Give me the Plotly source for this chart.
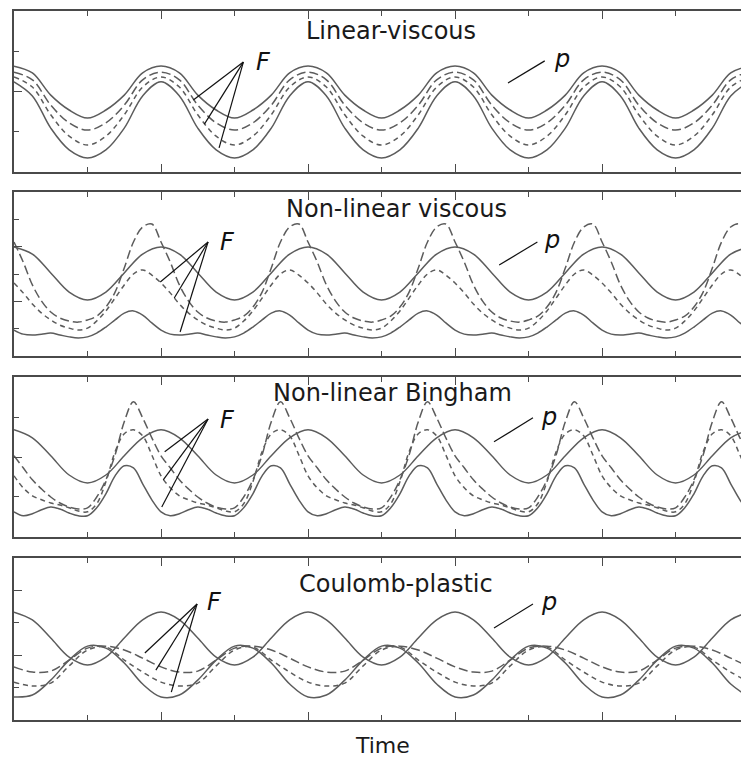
import plotly.graph_objects as go

# ---------------- sampling grids (time, in tick units) ----------------
time_coarse = [0, 0.25, 0.5, 0.75, 1, 1.25, 1.5, 1.75,
               2, 2.25, 2.5, 2.75, 3, 3.25, 3.5, 3.75,
               4, 4.25, 4.5, 4.75, 5, 5.25, 5.5, 5.75,
               6, 6.25, 6.5, 6.75, 7, 7.25, 7.5, 7.75,
               8, 8.25, 8.5, 8.75, 9, 9.25, 9.5, 9.75, 10]

time_fine = [0, 0.125, 0.25, 0.375, 0.5, 0.625, 0.75, 0.875,
             1, 1.125, 1.25, 1.375, 1.5, 1.625, 1.75, 1.875,
             2, 2.125, 2.25, 2.375, 2.5, 2.625, 2.75, 2.875,
             3, 3.125, 3.25, 3.375, 3.5, 3.625, 3.75, 3.875,
             4, 4.125, 4.25, 4.375, 4.5, 4.625, 4.75, 4.875,
             5, 5.125, 5.25, 5.375, 5.5, 5.625, 5.75, 5.875,
             6, 6.125, 6.25, 6.375, 6.5, 6.625, 6.75, 6.875,
             7, 7.125, 7.25, 7.375, 7.5, 7.625, 7.75, 7.875,
             8, 8.125, 8.25, 8.375, 8.5, 8.625, 8.75, 8.875,
             9, 9.125, 9.25, 9.375, 9.5, 9.625, 9.75, 9.875, 10]

# ---------------- Panel 1: Linear-viscous (coarse grid) ----------------
lv_p = [2.63, 2.46, 1.91, 1.54, 1.34, 1.54, 1.91, 2.46,
        2.63, 2.46, 1.91, 1.54, 1.34, 1.54, 1.91, 2.46,
        2.63, 2.46, 1.91, 1.54, 1.34, 1.54, 1.91, 2.46,
        2.63, 2.46, 1.91, 1.54, 1.34, 1.54, 1.91, 2.46,
        2.63, 2.46, 1.91, 1.54, 1.34, 1.54, 1.91, 2.46, 2.63]
lv_f1 = [2.48, 2.29, 1.66, 1.22, 1.04, 1.22, 1.66, 2.29,
         2.48, 2.29, 1.66, 1.22, 1.04, 1.22, 1.66, 2.29,
         2.48, 2.29, 1.66, 1.22, 1.04, 1.22, 1.66, 2.29,
         2.48, 2.29, 1.66, 1.22, 1.04, 1.22, 1.66, 2.29,
         2.48, 2.29, 1.66, 1.22, 1.04, 1.22, 1.66, 2.29, 2.48]
lv_f2 = [2.36, 2.11, 1.42, 0.89, 0.67, 0.89, 1.42, 2.11,
         2.36, 2.11, 1.42, 0.89, 0.67, 0.89, 1.42, 2.11,
         2.36, 2.11, 1.42, 0.89, 0.67, 0.89, 1.42, 2.11,
         2.36, 2.11, 1.42, 0.89, 0.67, 0.89, 1.42, 2.11,
         2.36, 2.11, 1.42, 0.89, 0.67, 0.89, 1.42, 2.11, 2.36]
lv_f3 = [2.24, 1.89, 1.09, 0.55, 0.35, 0.55, 1.09, 1.89,
         2.24, 1.89, 1.09, 0.55, 0.35, 0.55, 1.09, 1.89,
         2.24, 1.89, 1.09, 0.55, 0.35, 0.55, 1.09, 1.89,
         2.24, 1.89, 1.09, 0.55, 0.35, 0.55, 1.09, 1.89,
         2.24, 1.89, 1.09, 0.55, 0.35, 0.55, 1.09, 1.89, 2.24]

# ---------------- Panel 2: Non-linear viscous ----------------
nv_p = [3.99, 3.73, 3.04, 2.34, 2.05, 2.34, 3.04, 3.73,
        3.99, 3.73, 3.04, 2.34, 2.05, 2.34, 3.04, 3.73,
        3.99, 3.73, 3.04, 2.34, 2.05, 2.34, 3.04, 3.73,
        3.99, 3.73, 3.04, 2.34, 2.05, 2.34, 3.04, 3.73,
        3.99, 3.73, 3.04, 2.34, 2.05, 2.34, 3.04, 3.73, 3.99]
nv_f1 = [4.17, 3.44, 2.60, 2.01, 1.61, 1.39, 1.28, 1.24, 1.32, 1.46, 1.79, 2.34, 3.22, 4.17, 4.72, 4.83,
         4.17, 3.44, 2.60, 2.01, 1.61, 1.39, 1.28, 1.24, 1.32, 1.46, 1.79, 2.34, 3.22, 4.17, 4.72, 4.83,
         4.17, 3.44, 2.60, 2.01, 1.61, 1.39, 1.28, 1.24, 1.32, 1.46, 1.79, 2.34, 3.22, 4.17, 4.72, 4.83,
         4.17, 3.44, 2.60, 2.01, 1.61, 1.39, 1.28, 1.24, 1.32, 1.46, 1.79, 2.34, 3.22, 4.17, 4.72, 4.83,
         4.17, 3.44, 2.60, 2.01, 1.61, 1.39, 1.28, 1.24, 1.32, 1.46, 1.79, 2.34, 3.22, 4.17, 4.72, 4.83,
         4.17]
nv_f2 = [2.67, 2.31, 1.90, 1.57, 1.32, 1.13, 1.02, 0.95, 1.02, 1.28, 1.65, 2.12, 2.60, 3.00, 3.15, 2.96,
         2.67, 2.31, 1.90, 1.57, 1.32, 1.13, 1.02, 0.95, 1.02, 1.28, 1.65, 2.12, 2.60, 3.00, 3.15, 2.96,
         2.67, 2.31, 1.90, 1.57, 1.32, 1.13, 1.02, 0.95, 1.02, 1.28, 1.65, 2.12, 2.60, 3.00, 3.15, 2.96,
         2.67, 2.31, 1.90, 1.57, 1.32, 1.13, 1.02, 0.95, 1.02, 1.28, 1.65, 2.12, 2.60, 3.00, 3.15, 2.96,
         2.67, 2.31, 1.90, 1.57, 1.32, 1.13, 1.02, 0.95, 1.02, 1.28, 1.65, 2.12, 2.60, 3.00, 3.15, 2.96,
         2.67]
nv_f3 = [0.95, 0.80, 0.77, 0.80, 0.84, 0.77, 0.70, 0.66, 0.70, 0.84, 1.06, 1.32, 1.57, 1.65, 1.50, 1.21,
         0.95, 0.80, 0.77, 0.80, 0.84, 0.77, 0.70, 0.66, 0.70, 0.84, 1.06, 1.32, 1.57, 1.65, 1.50, 1.21,
         0.95, 0.80, 0.77, 0.80, 0.84, 0.77, 0.70, 0.66, 0.70, 0.84, 1.06, 1.32, 1.57, 1.65, 1.50, 1.21,
         0.95, 0.80, 0.77, 0.80, 0.84, 0.77, 0.70, 0.66, 0.70, 0.84, 1.06, 1.32, 1.57, 1.65, 1.50, 1.21,
         0.95, 0.80, 0.77, 0.80, 0.84, 0.77, 0.70, 0.66, 0.70, 0.84, 1.06, 1.32, 1.57, 1.65, 1.50, 1.21,
         0.95]

# ---------------- Panel 3: Non-linear Bingham ----------------
nb_p = [2.68, 2.48, 2.03, 1.55, 1.35, 1.55, 2.03, 2.48,
        2.68, 2.48, 2.03, 1.55, 1.35, 1.55, 2.03, 2.48,
        2.68, 2.48, 2.03, 1.55, 1.35, 1.55, 2.03, 2.48,
        2.68, 2.48, 2.03, 1.55, 1.35, 1.55, 2.03, 2.48,
        2.68, 2.48, 2.03, 1.55, 1.35, 1.55, 2.03, 2.48, 2.68]
nb_f1 = [2.03, 1.73, 1.43, 1.20, 1.00, 0.85, 0.75, 0.70, 0.73, 1.00, 1.43, 2.05, 2.88, 3.38, 2.98, 2.48,
         2.03, 1.73, 1.43, 1.20, 1.00, 0.85, 0.75, 0.70, 0.73, 1.00, 1.43, 2.05, 2.88, 3.38, 2.98, 2.48,
         2.03, 1.73, 1.43, 1.20, 1.00, 0.85, 0.75, 0.70, 0.73, 1.00, 1.43, 2.05, 2.88, 3.38, 2.98, 2.48,
         2.03, 1.73, 1.43, 1.20, 1.00, 0.85, 0.75, 0.70, 0.73, 1.00, 1.43, 2.05, 2.88, 3.38, 2.98, 2.48,
         2.03, 1.73, 1.43, 1.20, 1.00, 0.85, 0.75, 0.70, 0.73, 1.00, 1.43, 2.05, 2.88, 3.38, 2.98, 2.48,
         2.03]
nb_f2 = [1.53, 1.23, 1.03, 0.93, 0.85, 0.80, 0.73, 0.65, 0.63, 0.83, 1.38, 2.13, 2.58, 2.68, 2.53, 2.05,
         1.53, 1.23, 1.03, 0.93, 0.85, 0.80, 0.73, 0.65, 0.63, 0.83, 1.38, 2.13, 2.58, 2.68, 2.53, 2.05,
         1.53, 1.23, 1.03, 0.93, 0.85, 0.80, 0.73, 0.65, 0.63, 0.83, 1.38, 2.13, 2.58, 2.68, 2.53, 2.05,
         1.53, 1.23, 1.03, 0.93, 0.85, 0.80, 0.73, 0.65, 0.63, 0.83, 1.38, 2.13, 2.58, 2.68, 2.53, 2.05,
         1.53, 1.23, 1.03, 0.93, 0.85, 0.80, 0.73, 0.65, 0.63, 0.83, 1.38, 2.13, 2.58, 2.68, 2.53, 2.05,
         1.53]
nb_f3 = [0.63, 0.53, 0.58, 0.68, 0.75, 0.70, 0.60, 0.53, 0.53, 0.73, 1.08, 1.53, 1.78, 1.73, 1.33, 0.93,
         0.63, 0.53, 0.58, 0.68, 0.75, 0.70, 0.60, 0.53, 0.53, 0.73, 1.08, 1.53, 1.78, 1.73, 1.33, 0.93,
         0.63, 0.53, 0.58, 0.68, 0.75, 0.70, 0.60, 0.53, 0.53, 0.73, 1.08, 1.53, 1.78, 1.73, 1.33, 0.93,
         0.63, 0.53, 0.58, 0.68, 0.75, 0.70, 0.60, 0.53, 0.53, 0.73, 1.08, 1.53, 1.78, 1.73, 1.33, 0.93,
         0.63, 0.53, 0.58, 0.68, 0.75, 0.70, 0.60, 0.53, 0.53, 0.73, 1.08, 1.53, 1.78, 1.73, 1.33, 0.93,
         0.63]

# ---------------- Panel 4: Coulomb-plastic (coarse grid) ----------------
cp_p = [3.33, 3.09, 2.53, 1.94, 1.70, 1.94, 2.53, 3.09,
        3.33, 3.09, 2.53, 1.94, 1.70, 1.94, 2.53, 3.09,
        3.33, 3.09, 2.53, 1.94, 1.70, 1.94, 2.53, 3.09,
        3.33, 3.09, 2.53, 1.94, 1.70, 1.94, 2.53, 3.09,
        3.33, 3.09, 2.53, 1.94, 1.70, 1.94, 2.53, 3.09, 3.33]
cp_f1 = [1.64, 1.48, 1.51, 1.85, 2.22, 2.28, 2.16, 1.91,
         1.64, 1.48, 1.51, 1.85, 2.22, 2.28, 2.16, 1.91,
         1.64, 1.48, 1.51, 1.85, 2.22, 2.28, 2.16, 1.91,
         1.64, 1.48, 1.51, 1.85, 2.22, 2.28, 2.16, 1.91,
         1.64, 1.48, 1.51, 1.85, 2.22, 2.28, 2.16, 1.91, 1.64]
cp_f2 = [1.17, 1.05, 1.14, 1.67, 2.16, 2.25, 1.85, 1.48,
         1.17, 1.05, 1.14, 1.67, 2.16, 2.25, 1.85, 1.48,
         1.17, 1.05, 1.14, 1.67, 2.16, 2.25, 1.85, 1.48,
         1.17, 1.05, 1.14, 1.67, 2.16, 2.25, 1.85, 1.48,
         1.17, 1.05, 1.14, 1.67, 2.16, 2.25, 1.85, 1.48, 1.17]
cp_f3 = [0.71, 0.77, 1.23, 1.85, 2.28, 2.22, 1.76, 1.11,
         0.71, 0.77, 1.23, 1.85, 2.28, 2.22, 1.76, 1.11,
         0.71, 0.77, 1.23, 1.85, 2.28, 2.22, 1.76, 1.11,
         0.71, 0.77, 1.23, 1.85, 2.28, 2.22, 1.76, 1.11,
         0.71, 0.77, 1.23, 1.85, 2.28, 2.22, 1.76, 1.11, 0.71]

panel_titles = ["Linear-viscous", "Non-linear viscous", "Non-linear Bingham", "Coulomb-plastic"]
x_label = "Time"

# ---------------- styling ----------------
FONT = "DejaVu Sans"
CURVE = "#5c5c5c"
FRAME = "#4a4a4a"
LONG = "9px,4px"
SHORT = "5px,4px"
X_MAX = 9.89

panels = [
    dict(domain=[0.7743, 0.9856], yr=[0, 4],
         curves=[(time_coarse, lv_p, "solid"), (time_coarse, lv_f1, LONG),
                 (time_coarse, lv_f2, SHORT), (time_coarse, lv_f3, "solid")],
         title=(5.13, 3.50), F=(3.39, 2.73),
         Flines=[(3.12, 2.73, 2.44, 1.79), (3.12, 2.73, 2.59, 1.19), (3.12, 2.73, 2.79, 0.60)],
         p=(7.46, 2.81), pline=(7.22, 2.76, 6.72, 2.21)),
    dict(domain=[0.5328, 0.7480], yr=[0, 6],
         curves=[(time_coarse, nv_p, "solid"), (time_fine, nv_f1, LONG),
                 (time_fine, nv_f2, SHORT), (time_fine, nv_f3, "solid")],
         title=(5.20, 5.38), F=(2.91, 4.17),
         Flines=[(2.64, 4.17, 1.99, 2.71), (2.64, 4.17, 2.18, 2.12), (2.64, 4.17, 2.26, 0.88)],
         p=(7.32, 4.24), pline=(7.12, 4.17, 6.60, 3.33)),
    dict(domain=[0.2953, 0.5052], yr=[0, 4],
         curves=[(time_coarse, nb_p, "solid"), (time_fine, nb_f1, LONG),
                 (time_fine, nb_f2, SHORT), (time_fine, nb_f3, "solid")],
         title=(5.15, 3.60), F=(2.91, 2.93),
         Flines=[(2.64, 2.95, 2.05, 2.13), (2.64, 2.95, 2.03, 1.43), (2.64, 2.95, 2.01, 0.75)],
         p=(7.28, 3.00), pline=(7.06, 2.98, 6.53, 2.38)),
    dict(domain=[0.0551, 0.2677], yr=[0, 5],
         curves=[(time_coarse, cp_p, "solid"), (time_coarse, cp_f1, LONG),
                 (time_coarse, cp_f2, SHORT), (time_coarse, cp_f3, "solid")],
         title=(5.20, 4.20), F=(2.73, 3.64),
         Flines=[(2.49, 3.58, 1.78, 2.07), (2.49, 3.58, 1.93, 1.54), (2.49, 3.58, 2.14, 0.86)],
         p=(7.28, 3.64), pline=(7.06, 3.58, 6.53, 2.84)),
]

fig = go.Figure()
annotations = []
shapes = []
layout_axes = {}

for i, pn in enumerate(panels, start=1):
    xa = "x" if i == 1 else f"x{i}"
    ya = "y" if i == 1 else f"y{i}"
    for (tx, vy, dash) in pn["curves"]:
        fig.add_trace(go.Scatter(
            x=tx, y=vy, mode="lines", xaxis=xa, yaxis=ya,
            line=dict(color=CURVE, width=1.5, dash=dash, shape="spline", smoothing=1.0),
            showlegend=False, hoverinfo="skip"))

    layout_axes["xaxis" if i == 1 else f"xaxis{i}"] = dict(
        domain=[0, 1], range=[0, X_MAX], anchor=ya,
        showline=True, linecolor=FRAME, linewidth=1.5, mirror="ticks",
        ticks="inside", tickmode="linear", tick0=0, dtick=2, ticklen=8,
        tickcolor=FRAME, tickwidth=1.2,
        minor=dict(ticks="inside", tickmode="linear", tick0=0, dtick=1, ticklen=5,
                   tickcolor=FRAME, tickwidth=1.2, showgrid=False),
        showticklabels=False, showgrid=False, zeroline=False, fixedrange=True)
    layout_axes["yaxis" if i == 1 else f"yaxis{i}"] = dict(
        domain=pn["domain"], range=pn["yr"], anchor=xa,
        showline=True, linecolor=FRAME, linewidth=1.5, mirror=False,
        ticks="inside", tickmode="linear", tick0=0, dtick=2, ticklen=8,
        tickcolor=FRAME, tickwidth=1.2,
        minor=dict(ticks="inside", tickmode="linear", tick0=0, dtick=1, ticklen=5,
                   tickcolor=FRAME, tickwidth=1.2, showgrid=False),
        showticklabels=False, showgrid=False, zeroline=False, fixedrange=True)

    annotations.append(dict(x=pn["title"][0], y=pn["title"][1], xref=xa, yref=ya,
                            text=panel_titles[i - 1], showarrow=False,
                            xanchor="center", yanchor="middle",
                            font=dict(family=FONT, size=24, color="#1a1a1a")))
    annotations.append(dict(x=pn["F"][0], y=pn["F"][1], xref=xa, yref=ya,
                            text="<i>F</i>", showarrow=False,
                            xanchor="center", yanchor="middle",
                            font=dict(family=FONT, size=24, color="#111111")))
    annotations.append(dict(x=pn["p"][0], y=pn["p"][1], xref=xa, yref=ya,
                            text="<i>p</i>", showarrow=False,
                            xanchor="center", yanchor="middle",
                            font=dict(family=FONT, size=24, color="#111111")))
    for (x0, y0, x1, y1) in pn["Flines"]:
        shapes.append(dict(type="line", xref=xa, yref=ya, x0=x0, y0=y0, x1=x1, y1=y1,
                           line=dict(color="#111111", width=1.2)))
    x0, y0, x1, y1 = pn["pline"]
    shapes.append(dict(type="line", xref=xa, yref=ya, x0=x0, y0=y0, x1=x1, y1=y1,
                       line=dict(color="#111111", width=1.2)))

annotations.append(dict(x=0.507, y=0.003, xref="paper", yref="paper", text=x_label,
                        showarrow=False, xanchor="center", yanchor="bottom",
                        font=dict(family=FONT, size=22, color="#1a1a1a")))

fig.update_layout(
    width=741, height=762,
    margin=dict(l=14, r=0, t=0, b=0),
    paper_bgcolor="white", plot_bgcolor="white",
    annotations=annotations, shapes=shapes,
    **layout_axes)

fig.write_html("out.html")
